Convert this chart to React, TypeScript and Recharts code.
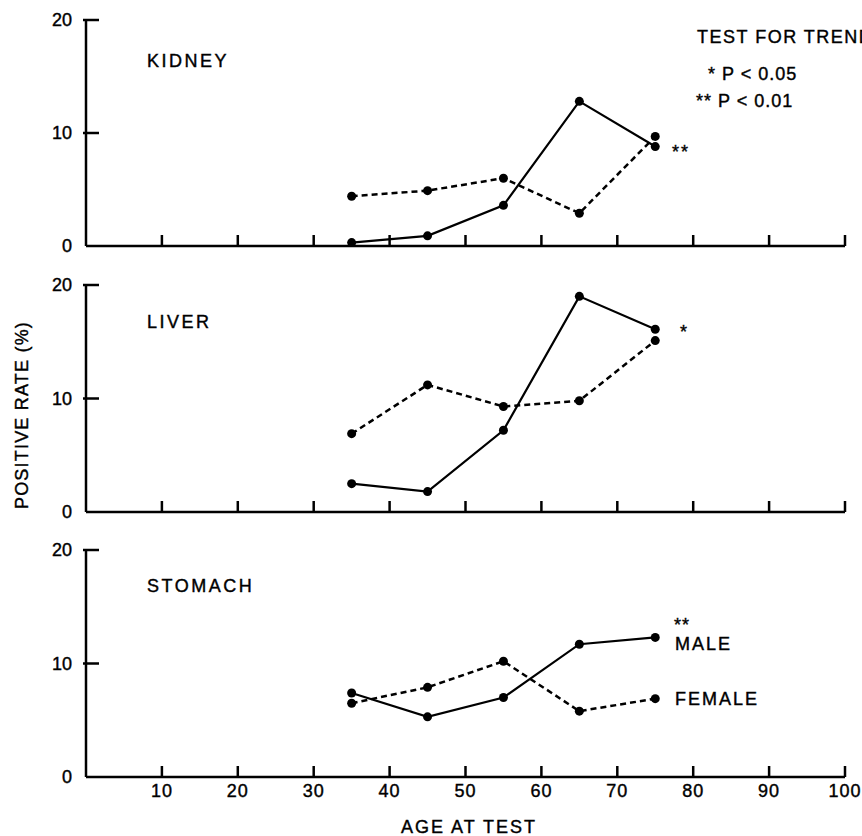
import { Line, LineChart, XAxis, YAxis } from "recharts";

const ages = [35, 45, 55, 65, 75];

const kidneyMale = [0.3, 0.9, 3.6, 12.8, 8.8];
const kidneyFemale = [4.4, 4.9, 6.0, 2.9, 9.7];
const liverMale = [2.5, 1.8, 7.2, 19.0, 16.1];
const liverFemale = [6.9, 11.2, 9.3, 9.8, 15.1];
const stomachMale = [7.4, 5.3, 7.0, 11.7, 12.3];
const stomachFemale = [6.5, 7.9, 10.2, 5.8, 6.9];

const xTicks = [10, 20, 30, 40, 50, 60, 70, 80, 90, 100];
const yTicks = [0, 10, 20];

const FONT = '"Liberation Sans", Arial, Helvetica, sans-serif';

function rows(male: number[], female: number[]) {
  return ages.map((age, i) => ({ age, male: male[i], female: female[i] }));
}

// tick mark pointing up into the plot, label below the axis on the last panel
function XTick(props: any) {
  const { x, y, payload, showLabel } = props;
  return (
    <g>
      <path d={`M${x},${y} L${x},${y - 11}`} stroke="#000" strokeWidth={2.5} fill="none" />
      {showLabel && (
        <text
          x={x}
          y={y + 20}
          textAnchor="middle"
          fontSize={18}
          letterSpacing={1}
          fontFamily={FONT}
          fill="#000"
          stroke="#000"
          strokeWidth={0.4}
        >
          {payload.value}
        </text>
      )}
    </g>
  );
}

function YTick(props: any) {
  const { x, y, payload } = props;
  return (
    <g>
      {payload.value > 0 && <path d={`M${x - 3},${y} L${x + 13},${y}`} stroke="#000" strokeWidth={2.5} fill="none" />}
      <text
        x={x - 14}
        y={y}
        dy="0.35em"
        textAnchor="end"
        fontSize={18}
        fontFamily={FONT}
        fill="#000"
        stroke="#000"
        strokeWidth={0.4}
      >
        {payload.value}
      </text>
    </g>
  );
}

interface PanelProps {
  top: number;
  height: number;
  xAxisHeight: number;
  data: { age: number; male: number; female: number }[];
  showLabels?: boolean;
}

function Panel({ top, height, xAxisHeight, data, showLabels = false }: PanelProps) {
  return (
    <div style={{ position: "absolute", left: 0, top }}>
      <LineChart width={862} height={height} data={data} margin={{ top: 20, right: 17, left: 0, bottom: 0 }}>
        <XAxis
          dataKey="age"
          type="number"
          domain={[0, 100]}
          ticks={xTicks}
          interval={0}
          height={xAxisHeight}
          tickSize={0}
          tickMargin={0}
          tickLine={false}
          axisLine={{ stroke: "#000", strokeWidth: 2.5 }}
          tick={(p: any) => <XTick {...p} showLabel={showLabels} />}
        />
        <YAxis
          type="number"
          domain={[0, 20]}
          ticks={yTicks}
          interval={0}
          width={86}
          tickSize={0}
          tickMargin={0}
          tickLine={false}
          axisLine={{ stroke: "#000", strokeWidth: 2.5 }}
          tick={(p: any) => <YTick {...p} />}
        />
        <Line
          dataKey="female"
          stroke="#000"
          strokeWidth={2.5}
          strokeDasharray="6 4"
          dot={{ r: 4.5, fill: "#000", stroke: "#000", strokeWidth: 0 }}
          isAnimationActive={false}
        />
        <Line
          dataKey="male"
          stroke="#000"
          strokeWidth={2.2}
          dot={{ r: 4.5, fill: "#000", stroke: "#000", strokeWidth: 0 }}
          isAnimationActive={false}
        />
      </LineChart>
    </div>
  );
}

const textStyle = { fontFamily: FONT, fontSize: 18, fill: "#000", stroke: "#000", strokeWidth: 0.4 };

export default function App() {
  return (
    <div style={{ position: "absolute", left: 0, top: 0, width: 862, height: 836, background: "#fff", overflow: "hidden" }}>
      <Panel top={0} height={262} xAxisHeight={16} data={rows(kidneyMale, kidneyFemale)} />
      <Panel top={265} height={262} xAxisHeight={15} data={rows(liverMale, liverFemale)} />
      <Panel top={530} height={306} xAxisHeight={59} data={rows(stomachMale, stomachFemale)} showLabels />
      <svg width={862} height={836} style={{ position: "absolute", left: 0, top: 0, pointerEvents: "none" }}>
        <text x={147} y={67} letterSpacing={2.5} {...textStyle}>KIDNEY</text>
        <text x={147} y={328} letterSpacing={2.5} {...textStyle}>LIVER</text>
        <text x={147} y={592} letterSpacing={2.5} {...textStyle}>STOMACH</text>

        <text x={697} y={43} letterSpacing={1.5} {...textStyle}>TEST FOR TREND</text>
        <text x={708} y={80} letterSpacing={1} {...textStyle}>* P &lt; 0.05</text>
        <text x={696} y={107} letterSpacing={1} {...textStyle}>** P &lt; 0.01</text>

        <text x={672} y={158} letterSpacing={2} {...textStyle}>**</text>
        <text x={680} y={338} {...textStyle}>*</text>
        <text x={674} y={631} letterSpacing={1} {...textStyle}>**</text>
        <text x={675} y={650} letterSpacing={2} {...textStyle}>MALE</text>
        <text x={675} y={705} letterSpacing={2} {...textStyle}>FEMALE</text>

        <text x={469} y={833} textAnchor="middle" letterSpacing={2} {...textStyle}>AGE AT TEST</text>
        <text
          x={22}
          y={415}
          transform="rotate(-90 22 415)"
          textAnchor="middle"
          dominantBaseline="central"
          letterSpacing={1.2}
          {...textStyle}
        >
          POSITIVE RATE (%)
        </text>
      </svg>
    </div>
  );
}
